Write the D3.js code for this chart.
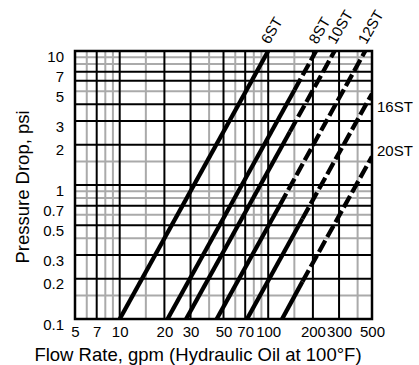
<!DOCTYPE html>
<html lang="en">
<head>
<meta charset="utf-8">
<title>Pressure Drop vs Flow Rate</title>
<script src="https://d3js.org/d3.v7.min.js"></script>
<style>
  body { margin: 0; background: #fff; }
  text { font-family: "Liberation Sans", Arial, Helvetica, sans-serif; fill: #000; }
</style>
</head>
<body>
<script>

var width = 419, height = 365
var margin = {top: 51, right: 47, bottom: 46, left: 75}

// grid lines (gpm / psi)
var xMajor = [7, 10, 20, 30, 50, 70, 100, 200, 300]
var xMinor = [6, 8, 9, 15, 40, 60, 80, 90, 150, 400]
var yMajor = [7, 6, 4, 3, 2, 1, 0.7, 0.5, 0.3, 0.2]
var yMinor = [9, 8, 5, 1.5, 0.9, 0.8, 0.6, 0.4, 0.15]
var xLabels = [5, 7, 10, 20, 30, 50, 70, 100, 200, 300, 500]
var yLabels = [10, 7, 5, 3, 2, 1, 0.7, 0.5, 0.3, 0.2, 0.1]

// each size: start point, point where the dashed part begins, end point  [gpm, psi]
var sizes    = ["6ST", "8ST", "10ST", "12ST", "16ST", "20ST"]
var startPts = [[10, 0.1], [21, 0.1], [28, 0.1], [45, 0.1], [72, 0.1], [124, 0.1]]
var dashPts  = [null, [150, 5.1], [140, 2.5], [120, 0.71], [170, 0.56], [170, 0.19]]
var endPts   = [[100, 10], [210, 10], [280, 10], [450, 10], [500, 4.8], [500, 1.63]]

var x = d3.scaleLog()
    .domain([5, 500])
    .range([margin.left, width - margin.right])

var y = d3.scaleLog()
    .domain([0.1, 10])
    .range([height - margin.bottom, margin.top])

var svg = d3.select("body").append("svg")
    .attr("width", width)
    .attr("height", height)

svg.append("defs").append("clipPath").attr("id", "plot")
  .append("rect")
    .attr("x", x(5)).attr("y", y(10))
    .attr("width", x(500) - x(5)).attr("height", y(0.1) - y(10))

var grid = svg.append("g")

function vlines(vals, color) {
  grid.selectAll(null).data(vals).enter().append("line")
      .attr("x1", d => x(d)).attr("x2", d => x(d))
      .attr("y1", y(0.1)).attr("y2", y(10))
      .attr("stroke", color).attr("stroke-width", 2)
}
function hlines(vals, color) {
  grid.selectAll(null).data(vals).enter().append("line")
      .attr("y1", d => y(d)).attr("y2", d => y(d))
      .attr("x1", x(5)).attr("x2", x(500))
      .attr("stroke", color).attr("stroke-width", 2)
}
vlines(xMinor, "#aaa")
hlines(yMinor, "#aaa")
vlines(xMajor, "#000")
hlines(yMajor, "#000")

grid.append("rect")
    .attr("x", x(5)).attr("y", y(10))
    .attr("width", x(500) - x(5)).attr("height", y(0.1) - y(10))
    .attr("fill", "none").attr("stroke", "#000").attr("stroke-width", 2.5)

// curves
var line = d3.line().x(d => x(d[0])).y(d => y(d[1]))
var curves = svg.append("g").attr("clip-path", "url(#plot)")

sizes.forEach(function(s, i) {
  var mid = dashPts[i] || endPts[i]
  curves.append("path")
      .attr("d", line([startPts[i], mid]))
      .attr("fill", "none").attr("stroke", "#000").attr("stroke-width", 4.3)
  if (dashPts[i]) {
    curves.append("path")
        .attr("d", line([dashPts[i], endPts[i]]))
        .attr("fill", "none").attr("stroke", "#000").attr("stroke-width", 4.3)
        .attr("stroke-dasharray", "13,4")
  }
})

// size labels
var sideOffset = {"16ST": 18, "20ST": -1}
sizes.forEach(function(s, i) {
  var e = endPts[i]
  if (e[1] >= 10) {
    svg.append("text")
        .attr("transform", "translate(" + (x(e[0]) + 1) + "," + (y(e[1]) - 6) + ") rotate(-60)")
        .style("font-size", "15px")
        .text(s)
  } else {
    svg.append("text")
        .attr("x", x(e[0]) + 5)
        .attr("y", y(e[1]) + sideOffset[s])
        .style("font-size", "15px")
        .text(s)
  }
})

// axes
var xAxis = svg.append("g")
    .attr("transform", "translate(0," + y(0.1) + ")")
    .call(d3.axisBottom(x).tickValues(xLabels).tickFormat(d => String(d)).tickSize(0).tickPadding(7))
xAxis.select(".domain").remove()
xAxis.selectAll("text").style("font-size", "15px").style("font-family", null)

var yAxis = svg.append("g")
    .attr("transform", "translate(" + x(5) + ",0)")
    .call(d3.axisLeft(y).tickValues(yLabels).tickFormat(d => String(d)).tickSize(0).tickPadding(11))
yAxis.select(".domain").remove()
yAxis.selectAll("text").style("font-size", "15px").style("font-family", null).attr("dy", "0.68em")

svg.append("text")
    .attr("x", 198)
    .attr("y", 361)
    .attr("text-anchor", "middle")
    .style("font-size", "18.5px")
    .text("Flow Rate, gpm (Hydraulic Oil at 100°F)")

svg.append("text")
    .attr("transform", "translate(29,187) rotate(-90)")
    .attr("text-anchor", "middle")
    .style("font-size", "18.5px")
    .text("Pressure Drop, psi")

</script>
</body>
</html>
